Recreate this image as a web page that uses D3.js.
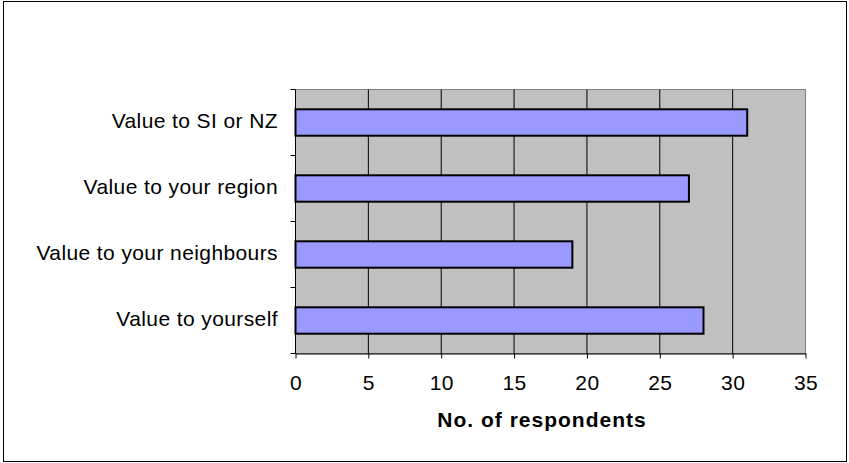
<!DOCTYPE html>
<meta charset="utf-8">
<style>
  body { margin: 0; background: #fff; }
  .label { font-family: "Liberation Sans", Arial, sans-serif; font-size: 21px; fill: #000; letter-spacing: 0.4px; }
  .title { font-family: "Liberation Sans", Arial, sans-serif; font-size: 21px; font-weight: bold; fill: #000; letter-spacing: 1px; }
</style>
<svg class="chart" width="849" height="463"></svg>
<script src="https://d3js.org/d3.v7.min.js"></script>
<script>
  var categories = ["Value to SI or NZ", "Value to your region", "Value to your neighbours", "Value to yourself"];
  var values = [31, 27, 19, 28];
  var xTicks = [0, 5, 10, 15, 20, 25, 30, 35];
  var axisTitle = "No. of respondents";

  var svg = d3.select(".chart");

  // outer frame
  svg.append("rect")
      .attr("x", 3.5).attr("y", 1.5)
      .attr("width", 843).attr("height", 460)
      .attr("fill", "#fff")
      .attr("stroke", "#000");

  var plotLeft = 295.5, plotRight = 805.5, plotTop = 89.5, plotBottom = 353.5;

  var x = d3.scaleLinear().domain([0, 35]).range([plotLeft, plotRight]);
  var y = d3.scaleBand().domain(categories).range([plotTop, plotBottom])
      .paddingInner(0.6).paddingOuter(0.3);
  var gap = (y.step() - y.bandwidth()) / 2;

  // plot area
  svg.append("rect")
      .attr("x", plotLeft).attr("y", plotTop)
      .attr("width", plotRight - plotLeft).attr("height", plotBottom - plotTop)
      .attr("fill", "#c0c0c0")
      .attr("stroke", "#808080");

  // gridlines
  svg.append("g")
      .selectAll("line")
      .data(xTicks.slice(1, -1))
      .enter().append("line")
      .attr("x1", function (d) { return x(d); })
      .attr("x2", function (d) { return x(d); })
      .attr("y1", plotTop).attr("y2", plotBottom)
      .attr("stroke", "#000");

  // bars
  svg.append("g")
      .selectAll("rect")
      .data(values)
      .enter().append("rect")
      .attr("x", x(0))
      .attr("y", function (d, i) { return y(categories[i]); })
      .attr("width", function (d) { return x(d) - x(0); })
      .attr("height", y.bandwidth())
      .attr("fill", "#9999ff")
      .attr("stroke", "#000")
      .attr("stroke-width", 2);

  // x axis
  var xAxis = svg.append("g")
      .attr("transform", "translate(0," + plotBottom + ")")
      .attr("font-size", null).attr("font-family", null)
      .call(d3.axisBottom(x).tickValues(xTicks).tickSize(5).tickSizeOuter(0).tickPadding(17));
  xAxis.select(".domain").attr("stroke", "#000");
  xAxis.selectAll("text").attr("class", "label");

  // y axis line and ticks at band edges
  svg.append("line")
      .attr("x1", plotLeft).attr("x2", plotLeft)
      .attr("y1", plotTop).attr("y2", plotBottom)
      .attr("stroke", "#000");
  var edges = categories.map(function (c) { return y(c) - gap; }).concat([plotBottom]);
  svg.append("g")
      .selectAll("line")
      .data(edges)
      .enter().append("line")
      .attr("x1", plotLeft - 5).attr("x2", plotLeft)
      .attr("y1", function (d) { return d; })
      .attr("y2", function (d) { return d; })
      .attr("stroke", "#000");

  // category labels
  svg.append("g")
      .selectAll("text")
      .data(categories)
      .enter().append("text")
      .attr("class", "label")
      .attr("x", 278)
      .attr("y", function (d) { return y(d) + y.bandwidth() / 2 + 5; })
      .attr("text-anchor", "end")
      .text(function (d) { return d; });

  // axis title
  svg.append("text")
      .attr("class", "title")
      .attr("x", 542)
      .attr("y", 427)
      .attr("text-anchor", "middle")
      .text(axisTitle);
</script>
